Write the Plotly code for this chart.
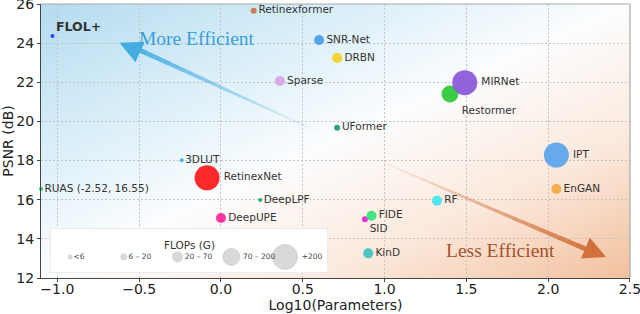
import base64
import numpy as np
import plotly.graph_objects as go

# ---------------- data ----------------
models = ["FLOL+", "Retinexformer", "SNR-Net", "DRBN", "Sparse", "Restormer", "MIRNet",
          "UFormer", "IPT", "3DLUT", "RetinexNet", "RUAS", "DeepLPF", "DeepUPE",
          "EnGAN", "RF", "SID", "FIDE", "KinD"]
labels = ["FLOL+", "Retinexformer", "SNR-Net", "DRBN", "Sparse", "Restormer", "MIRNet",
          "UFormer", "IPT", "3DLUT", "RetinexNet", "RUAS (-2.52, 16.55)", "DeepLPF", "DeepUPE",
          "EnGAN", "RF", "SID", "FIDE", "KinD"]
log_params = [-1.03, 0.20, 0.60, 0.71, 0.36, 1.40, 1.49,
              0.71, 2.05, -0.24, -0.085, -1.10, 0.24, 0.00,
              2.05, 1.32, 0.88, 0.92, 0.90]
psnr = [24.37, 25.66, 24.16, 23.24, 22.07, 21.40, 21.98,
        19.68, 18.28, 18.02, 17.12, 16.55, 15.98, 15.07,
        16.55, 15.95, 15.00, 15.18, 13.26]
# FLOPs bin index (0:<6, 1:6-20, 2:20-70, 3:70-200, 4:+200)
flops_bin = [0, 1, 2, 2, 2, 3, 4,
             1, 4, 0, 4, 0, 0, 2,
             2, 2, 1, 2, 2]
flops_bin_labels = ["<6", "6 – 20", "20 – 70", "70 – 200", "+200"]
x_ticks = [-1.0, -0.5, 0.0, 0.5, 1.0, 1.5, 2.0, 2.5]
y_ticks = [12, 14, 16, 18, 20, 22, 24, 26]

# ---------------- styles ----------------
bin_sizes = [4, 6, 10, 17, 25]
colors = ["#1f3df5", "#c8784a", "#4d9fea", "#f4d22a", "#d9a5e6", "#33c93a", "#8b5cd9",
          "#2a9a82", "#5ea7ec", "#45b2ea", "#fb1d1d", "#25cc6a", "#24a86a", "#fc2c9e",
          "#f6ab45", "#45e6ee", "#f424dc", "#35e57c", "#45c2c4"]
textpos = ["middle right", "middle right", "middle right", "middle right", "middle right",
           "bottom right", "middle right", "middle right", "middle right", "middle right",
           "middle right", "middle right", "middle right", "middle right", "middle right",
           "middle right", "bottom right", "middle right", "middle right"]
bold_names = {"FLOL+"}

disp_text = ["" if m in bold_names else l for m, l in zip(models, labels)]

fig = go.Figure()

# background gradient via SVG image
svg = ('<svg xmlns="http://www.w3.org/2000/svg" width="600" height="280" viewBox="0 0 600 280" '
       'preserveAspectRatio="none"><defs><linearGradient id="g" x1="0" y1="0" x2="1" y2="1">'
       '<stop offset="0" stop-color="#b4dbef"/>'
       '<stop offset="0.25" stop-color="#d7edf8"/>'
       '<stop offset="0.5" stop-color="#fcfdfe"/>'
       '<stop offset="0.75" stop-color="#fbe8db"/>'
       '<stop offset="1" stop-color="#f2c09d"/>'
       '</linearGradient></defs><rect width="600" height="280" fill="url(#g)"/></svg>')
uri = "data:image/svg+xml;base64," + base64.b64encode(svg.encode()).decode()

fig.add_trace(go.Scatter(
    x=log_params, y=psnr, mode="markers+text",
    text=disp_text, textposition=textpos,
    textfont=dict(family="DejaVu Sans", size=10.5, color="#333333"),
    marker=dict(size=[bin_sizes[b] for b in flops_bin], color=colors, opacity=0.95,
                line=dict(width=0)),
    cliponaxis=False, hoverinfo="skip", showlegend=False,
))

# FLOPs key (auxiliary axes)
fig.add_trace(go.Scatter(
    x=list(range(len(flops_bin_labels))), y=[0.36] * len(flops_bin_labels),
    mode="markers+text", text=flops_bin_labels, textposition="middle right",
    textfont=dict(family="DejaVu Sans", size=7.5, color="#444"),
    marker=dict(size=bin_sizes, color="#c9c9c9", line=dict(width=0.6, color="#b0b0b0")),
    xaxis="x2", yaxis="y2", hoverinfo="skip", showlegend=False, cliponaxis=False,
))

# arrows (fading shafts)
shapes = []
def fading_arrow(tail, head, color, n=24, w0=1.0, w1=5.0):
    tx, ty = tail
    hx, hy = head
    for i in range(n):
        f0 = i / n
        f1 = (i + 1) / n
        shapes.append(dict(type="line", xref="x", yref="y",
                           x0=tx + (hx - tx) * f0, y0=ty + (hy - ty) * f0,
                           x1=tx + (hx - tx) * f1, y1=ty + (hy - ty) * f1,
                           line=dict(color=color, width=w0 + (w1 - w0) * f1),
                           opacity=0.05 + 0.9 * f1 ** 1.2, layer="above"))

blue_tail, blue_head = (0.60, 19.45), (-0.55, 23.85)
orange_tail, orange_head = (0.95, 18.05), (2.28, 13.30)
fading_arrow(blue_tail, blue_head, "#45aee0")
fading_arrow(orange_tail, orange_head, "#d0703a")

# legend box on aux axes
shapes.append(dict(type="rect", xref="x2", yref="y2", x0=-0.372, x1=4.80, y0=0, y1=1,
                   fillcolor="rgba(255,255,255,0.82)", line=dict(color="#d6d6d6", width=1),
                   layer="below"))
# top/right frame
shapes.append(dict(type="line", xref="paper", yref="paper", x0=0, x1=1, y0=1, y1=1,
                   line=dict(color="#a8a8a8", width=1.2), layer="above"))
shapes.append(dict(type="line", xref="paper", yref="paper", x0=1, x1=1, y0=0, y1=1,
                   line=dict(color="#a8a8a8", width=1.2), layer="above"))

annotations = [
    dict(x=-0.62, y=24.02, ax=-0.50, ay=23.57, xref="x", yref="y", axref="x", ayref="y",
         text="", showarrow=True, arrowhead=2, arrowsize=0.9, arrowwidth=5, arrowcolor="#45aee0"),
    dict(x=2.354, y=13.07, ax=2.24, ay=13.48, xref="x", yref="y", axref="x", ayref="y",
         text="", showarrow=True, arrowhead=2, arrowsize=0.9, arrowwidth=5, arrowcolor="#d0703a"),
    dict(x=-0.146, y=24.26, xref="x", yref="y", text="More Efficient", showarrow=False,
         font=dict(family="Liberation Serif", size=19.5, color="#3a9fd6")),
    dict(x=1.71, y=13.43, xref="x", yref="y", text="Less Efficient", showarrow=False,
         font=dict(family="Liberation Serif", size=19.5, color="#a5522c")),
    dict(x=0.5, y=0.62, xref="x2 domain", yref="y2 domain", text="FLOPs (G)", showarrow=False,
         font=dict(family="DejaVu Sans", size=10.5, color="#333")),
]
for m, l, xv, yv in zip(models, labels, log_params, psnr):
    if m in bold_names:
        annotations.append(dict(x=xv, y=yv, xref="x", yref="y", text=f"<b>{l}</b>",
                                showarrow=False, xanchor="left", yanchor="middle",
                                xshift=2, yshift=9,
                                font=dict(family="DejaVu Sans", size=12.5, color="#333")))

axis_font = dict(family="DejaVu Sans", size=14, color="#222")
fig.update_layout(
    width=640, height=314,
    margin=dict(l=41, r=10, t=4, b=36),
    paper_bgcolor="white", plot_bgcolor="white",
    images=[dict(source=uri, xref="paper", yref="paper", x=0, y=1, sizex=1, sizey=1,
                 sizing="stretch", xanchor="left", yanchor="top", layer="below")],
    xaxis=dict(range=[-1.1, 2.5001], tickvals=x_ticks,
               tickformat=".1f", showgrid=True, gridcolor="#c4c4c4", griddash="2px,2px",
               gridwidth=1, zeroline=False, showline=True, linecolor="#444", linewidth=1.2,
               ticks="outside", ticklen=3, tickcolor="#444", tickfont=axis_font,
               ticklabelstandoff=-5, ticklabeloverflow="allow",
               title=dict(text="Log10(Parameters)", font=axis_font, standoff=0),
               automargin=False),
    yaxis=dict(range=[12, 26.002], tickvals=y_ticks, showgrid=True, gridcolor="#c4c4c4",
               griddash="2px,2px", ticklabeloverflow="allow",
               gridwidth=1, zeroline=False, showline=True, linecolor="#444", linewidth=1.2,
               ticks="outside", ticklen=3, tickcolor="#444", tickfont=axis_font,
               title=dict(text="PSNR (dB)", font=axis_font, standoff=2),
               automargin=False),
    xaxis2=dict(domain=[0.0153, 0.4873], range=[-0.372, 4.80], visible=False, anchor="y2",
                fixedrange=True),
    yaxis2=dict(domain=[0.018, 0.182], range=[0, 1], visible=False, anchor="x2",
                fixedrange=True),
    shapes=shapes,
    annotations=annotations,
)

fig.write_html("out.html", config={"displayModeBar": False},
               post_script="document.body.style.margin='0';document.body.style.overflow='hidden';")
